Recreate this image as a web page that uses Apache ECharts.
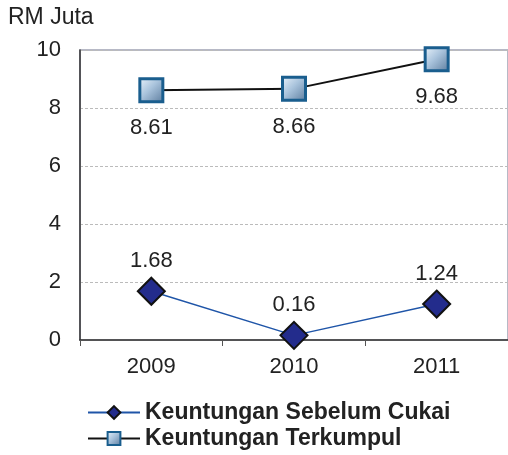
<!DOCTYPE html>
<html>
<head>
<meta charset="utf-8">
<script src="https://cdn.jsdelivr.net/npm/echarts@6/dist/echarts.min.js"></script>
<style>
  html, body { margin: 0; padding: 0; background: #fff; }
  #main { width: 508px; height: 455px; }
</style>
</head>
<body>
<div id="main"></div>
<script>
// data
const years = ['2009', '2010', '2011'];
const sebelumCukai = [1.68, 0.16, 1.24];
const terkumpul = [8.61, 8.66, 9.68];
const yTicks = [0, 2, 4, 6, 8, 10];
const seriesNames = ['Keuntungan Sebelum Cukai', 'Keuntungan Terkumpul'];

const font = 'Liberation Sans, Arial, sans-serif';

const squareFill = new echarts.graphic.LinearGradient(0, 0, 1, 1, [
  { offset: 0, color: '#eef6fd' },
  { offset: 0.45, color: '#a9c3dc' },
  { offset: 1, color: '#58789a' }
]);

var myChart = echarts.init(document.getElementById('main'));

// one legend per row, so they never wrap into columns
const legendRow = (name, top) => ({
  orient: 'horizontal',
  left: 87, top: top, padding: 0,
  itemWidth: 52, itemHeight: 16,
  textStyle: { fontSize: 23, fontWeight: 'bold', color: '#222' },
  data: [name]
});

const option = {
  animation: false,
  textStyle: { fontFamily: font },
  grid: {
    left: 80, right: -4, top: 50, bottom: 115,
    show: true, borderColor: '#a0a3b4', borderWidth: 1.5
  },
  graphic: [{
    type: 'text', left: 8, top: 6,
    style: { text: 'RM Juta', font: '23px ' + font, fill: '#222' }
  }],
  xAxis: {
    type: 'category',
    data: years,
    boundaryGap: true,
    axisLine: { lineStyle: { color: '#333', width: 1.5 } },
    axisTick: { show: true, length: 6, lineStyle: { color: '#555' } },
    axisLabel: { color: '#222', fontSize: 22, margin: 16 }
  },
  yAxis: {
    type: 'value',
    min: yTicks[0], max: yTicks[yTicks.length - 1], interval: 2,
    axisLine: { show: true, lineStyle: { color: '#333', width: 1.5 } },
    axisTick: { show: false },
    axisLabel: { color: '#222', fontSize: 22, margin: 19 },
    splitLine: { show: true, lineStyle: { color: '#bbb', type: [3, 2], width: 1 } }
  },
  legend: [legendRow(seriesNames[0], 401), legendRow(seriesNames[1], 427)],
  series: [
    {
      name: seriesNames[0],
      type: 'line',
      data: sebelumCukai,
      symbol: 'diamond',
      symbolSize: 27,
      itemStyle: { color: '#232c8c', borderColor: '#111', borderWidth: 2 },
      lineStyle: { color: '#1f55a8', width: 1.5 },
      label: {
        show: true, position: 'top', distance: 5,
        fontSize: 22, color: '#222',
        formatter: p => p.value.toFixed(2)
      }
    },
    {
      name: seriesNames[1],
      type: 'line',
      data: terkumpul,
      symbol: 'rect',
      symbolSize: 23,
      itemStyle: { color: squareFill, borderColor: '#1a5e8e', borderWidth: 3 },
      lineStyle: { color: '#111', width: 2 },
      label: {
        show: true, position: 'bottom', distance: 14,
        fontSize: 22, color: '#222',
        formatter: p => p.value.toFixed(2)
      }
    }
  ]
};

myChart.setOption(option);
</script>
</body>
</html>
